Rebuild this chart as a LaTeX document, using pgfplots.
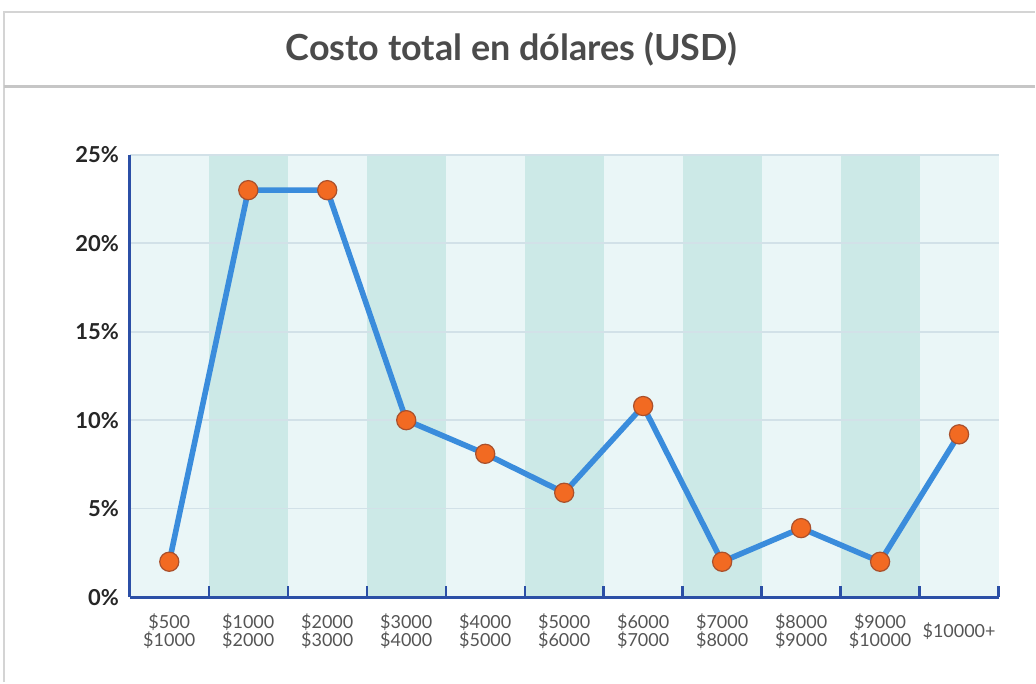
\documentclass[border=0pt]{standalone}
\usepackage{fontspec}
\setmainfont{Lato}
\usepackage{pgfplots}
\pgfplotsset{compat=1.18}
\definecolor{framegray}{HTML}{D4D4D4}
\definecolor{sepgray}{HTML}{C6C6C6}
\definecolor{titlegray}{HTML}{4B4B4B}
\definecolor{bandlight}{HTML}{EAF6F7}
\definecolor{banddark}{HTML}{CCE9E7}
\definecolor{gridcol}{HTML}{D2E1E8}
\definecolor{axisblue}{HTML}{2B4FA6}
\definecolor{lineblue}{HTML}{3A8CDC}
\definecolor{dotorange}{HTML}{F26A22}
\definecolor{dotedge}{HTML}{A9502C}
\definecolor{labgray}{HTML}{555555}
\pgfplotsset{set layers}

\begin{document}
\begin{tikzpicture}
\begin{scope}[x=0.5pt,y=0.5pt]
  \path (0,0) rectangle (1036,683);
  \draw[line width=1pt, color=framegray] (4,0) -- (4,671) -- (1036,671);
  \draw[line width=1.5pt, color=sepgray] (4,596) -- (1036,596);
  \node[font=\bfseries\fontsize{18}{21}\selectfont, text=titlegray] at (512,634) {Costo total en dólares (USD)};
\end{scope}
\begin{axis}[
    at={(65pt,42.5pt)}, anchor=south west,
    scale only axis,
    width=435pt, height=221.5pt,
    xmin=-0.5, xmax=10.5,
    ymin=0, ymax=25,
    axis lines*=left,
    axis line style={line width=1.5pt, color=axisblue},
    ytick={0,5,10,15,20,25},
    yticklabel={\pgfmathprintnumber{\tick}\%},
    yticklabel style={font=\bfseries\fontsize{11}{13}\selectfont, text=black!85, xshift=-2pt},
    ymajorgrids=true,
    grid style={color=gridcol, line width=0.8pt},
    xtick={0,1,2,3,4,5,6,7,8,9,10},
    xticklabels={{\$500\\\$1000},{\$1000\\\$2000},{\$2000\\\$3000},{\$3000\\\$4000},{\$4000\\\$5000},{\$5000\\\$6000},{\$6000\\\$7000},{\$7000\\\$8000},{\$8000\\\$9000},{\$9000\\\$10000},{\$10000+}},
    xticklabel style={font=\fontsize{9}{9}\selectfont, text=labgray, align=center, anchor=center, yshift=-17pt},
    tick style={draw=none},
    /pgf/number format/assume math mode=true,
    clip=false,
]
\begin{pgfonlayer}{axis background}
  \fill[bandlight] (axis cs:-0.5,0) rectangle (axis cs:10.5,25);
  \fill[banddark] (axis cs:0.5,0) rectangle (axis cs:1.5,25);
  \fill[banddark] (axis cs:2.5,0) rectangle (axis cs:3.5,25);
  \fill[banddark] (axis cs:4.5,0) rectangle (axis cs:5.5,25);
  \fill[banddark] (axis cs:6.5,0) rectangle (axis cs:7.5,25);
  \fill[banddark] (axis cs:8.5,0) rectangle (axis cs:9.5,25);
\end{pgfonlayer}
% short marks on the category boundaries, pointing up from the x axis
\pgfplotsinvokeforeach{0.5,1.5,2.5,3.5,4.5,5.5,6.5,7.5,8.5,9.5,10.5}{
  \draw[axisblue, line width=1.2pt] (axis cs:#1,0) -- ([yshift=5.5pt]axis cs:#1,0);
}
\addplot[line width=2.8pt, color=lineblue, line join=round,
    mark=*, mark size=4.8pt,
    mark options={fill=dotorange, draw=dotedge, line width=0.6pt}]
    coordinates {(0,2) (1,23) (2,23) (3,10) (4,8.1) (5,5.9) (6,10.8) (7,2) (8,3.9) (9,2) (10,9.2)};
\end{axis}
\end{tikzpicture}
\end{document}
